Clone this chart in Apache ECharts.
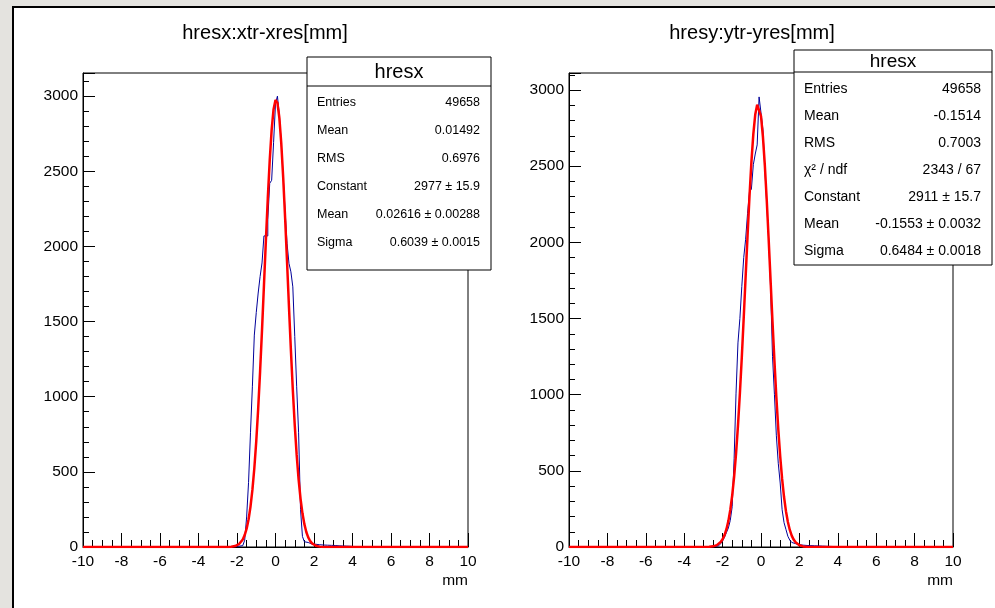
<!DOCTYPE html>
<html>
<head>
<meta charset="utf-8">
<script src="https://cdn.jsdelivr.net/npm/echarts@6/dist/echarts.min.js"></script>
<style>
  html, body { margin: 0; padding: 0; background: #e4e3df; overflow: hidden; }
  #pad { position: absolute; left: 12px; top: 6px; width: 1000px; height: 620px; background: #fff;
         border-left: 2px solid #000; border-top: 2px solid #000; }
  #main { position: absolute; left: 0; top: 0; width: 995px; height: 608px; }
</style>
</head>
<body>
<div id="pad"></div>
<div id="main"></div>
<script>
// histogram binning (200 bins over -10..10)
const binWidth = 0.1;
const xTicks = [-10, 10];

// hresx: xtr-xres, bin contents starting at left edge -2.5
const xresFirstEdge = -2.5;
const xresCounts = [
  1, 1, 2, 2, 3, 5, 7, 9, 10, 45,
  200, 430, 760, 1070, 1410, 1560, 1690, 1800, 1890, 2070,
  2070, 2180, 2420, 2440, 2690, 2950, 3000, 2874, 2685, 2463,
  2230, 2020, 1887, 1831, 1731, 1400, 1066, 760, 250, 70,
  35, 30, 22, 20, 18, 18, 16, 15, 14, 13,
  12, 12, 11, 11, 10, 10, 9, 8, 8, 7,
  7, 6, 6, 5, 4, 3, 3, 2, 2, 1, 1
];

// hresy: ytr-yres, bin contents starting at left edge -2.6
const yresFirstEdge = -2.6;
const yresCounts = [
  2, 3, 5, 8, 14, 22, 40, 65, 95, 125,
  175, 265, 580, 1010, 1340, 1500, 1710, 1900, 2020, 2190,
  2330, 2350, 2510, 2580, 2640, 2955, 2850, 2740, 2480, 2250,
  2020, 1700, 1250, 1000, 730, 550, 420, 245, 160, 115,
  70, 45, 30, 22, 18, 15, 13, 12, 11, 10,
  10, 9, 8, 8, 7, 7, 6, 6, 5, 5,
  5, 4, 4, 3, 3, 2, 1
];

// gaussian fit curves, sampled every 0.1
const fitStep = 0.1;
const xresFitStart = -2.5;
const xresFit = [
  0.5, 0.9, 1.8, 3.3, 6.1, 10.7, 18.4, 30.8, 50.2, 79.4,
  122, 183, 267, 380, 524, 703, 919, 1169, 1445, 1740,
  2037, 2321, 2573, 2776, 2913, 2974, 2955, 2856, 2686, 2458,
  2188, 1896, 1597, 1310, 1045, 811, 613, 450, 322, 224,
  152, 100, 64, 40, 24, 14, 8.2, 4.6, 2.5, 1.3, 0.7
];
const yresFitStart = -2.7;
const yresFit = [
  1.3, 2.4, 4.2, 7.3, 12.2, 20.2, 32.4, 50.9, 78, 117,
  170, 243, 339, 461, 613, 795, 1008, 1246, 1505, 1776,
  2046, 2301, 2527, 2711, 2839, 2904, 2900, 2829, 2694, 2505,
  2275, 2017, 1747, 1477, 1220, 983, 774, 595, 447, 328,
  235, 164, 112, 74.5, 48.6, 30.9, 19.2, 11.6, 6.9, 4.0,
  2.2, 1.2
];

// stats boxes
const statsX = [
  ['Entries', '49658'],
  ['Mean', '0.01492'],
  ['RMS', '0.6976'],
  ['Constant', '2977 \u00b1 15.9'],
  ['Mean', '0.02616 \u00b1 0.00288'],
  ['Sigma', '0.6039 \u00b1 0.0015']
];
const statsY = [
  ['Entries', '49658'],
  ['Mean', '-0.1514'],
  ['RMS', '0.7003'],
  ['\u03c7\u00b2 / ndf', '2343 / 67'],
  ['Constant', '2911 \u00b1 15.7'],
  ['Mean', '-0.1553 \u00b1 0.0032'],
  ['Sigma', '0.6484 \u00b1 0.0018']
];

const FONT = '"Liberation Sans", Arial, Helvetica, sans-serif';

function histPoints(firstEdge, counts) {
  const pts = [[xTicks[0], 0]];
  counts.forEach((c, i) => pts.push([+(firstEdge + i * binWidth).toFixed(3), c]));
  pts.push([+(firstEdge + counts.length * binWidth).toFixed(3), 0]);
  pts.push([xTicks[1], 0]);
  return pts;
}
function fitPoints(start, vals) {
  const pts = [[xTicks[0], 0]];
  vals.forEach((v, i) => pts.push([+(start + i * fitStep).toFixed(3), v]));
  pts.push([xTicks[1], 0]);
  return pts;
}

function xAxisCfg(idx) {
  return {
    type: 'value', gridIndex: idx, min: -10, max: 10, interval: 2,
    axisLine: { show: true, onZero: false, lineStyle: { color: '#000', width: 1 } },
    axisTick: { show: true, inside: true, length: 14, lineStyle: { color: '#000' } },
    minorTick: { show: true, splitNumber: 4, length: 7, lineStyle: { color: '#000' } },
    axisLabel: { color: '#000', fontSize: 15.5, fontFamily: FONT, margin: 7 },
    splitLine: { show: false }
  };
}
function yAxisCfg(idx, max) {
  return {
    type: 'value', gridIndex: idx, min: 0, max: max, interval: 500,
    axisLine: { show: true, onZero: false, lineStyle: { color: '#000', width: 1 } },
    axisTick: { show: true, inside: true, length: 12, lineStyle: { color: '#000' } },
    minorTick: { show: true, splitNumber: 5, length: 6, lineStyle: { color: '#000' } },
    axisLabel: { color: '#000', fontSize: 15.5, fontFamily: FONT, margin: 5, showMaxLabel: false,
                 formatter: v => (v % 500 === 0 ? String(v) : '') },
    splitLine: { show: false }
  };
}

function statsBox(x, y, w, headH, rowY, rows, fontSize, headSize) {
  const els = [
    { type: 'rect', shape: { x: x, y: y, width: w, height: rowY.h }, z: 100,
      style: { fill: '#fff', stroke: '#000', lineWidth: 1 } },
    { type: 'line', shape: { x1: x, y1: y + headH, x2: x + w, y2: y + headH }, z: 101,
      style: { stroke: '#000', lineWidth: 1 } },
    { type: 'text', x: x + w / 2, y: y + headH / 2 + 1, z: 101,
      style: { text: 'hresx', font: headSize + 'px ' + FONT, fill: '#000',
               textAlign: 'center', textVerticalAlign: 'middle' } }
  ];
  rows.forEach((r, i) => {
    const yy = rowY.first + i * rowY.step;
    els.push({ type: 'text', x: x + 10, y: yy, z: 101,
      style: { text: r[0], font: fontSize + 'px ' + FONT, fill: '#000', textAlign: 'left', textVerticalAlign: 'middle' } });
    els.push({ type: 'text', x: x + w - 11, y: yy, z: 101,
      style: { text: r[1], font: fontSize + 'px ' + FONT, fill: '#000', textAlign: 'right', textVerticalAlign: 'middle' } });
  });
  return els;
}

const chart = echarts.init(document.getElementById('main'), null, { renderer: 'canvas' });

const graphics = [
  { type: 'text', x: 265, y: 33, style: { text: 'hresx:xtr-xres[mm]', font: '20px ' + FONT, fill: '#000', textAlign: 'center', textVerticalAlign: 'middle' } },
  { type: 'text', x: 752, y: 33, style: { text: 'hresy:ytr-yres[mm]', font: '20px ' + FONT, fill: '#000', textAlign: 'center', textVerticalAlign: 'middle' } },
  { type: 'text', x: 468, y: 581, style: { text: 'mm', font: '15.5px ' + FONT, fill: '#000', textAlign: 'right', textVerticalAlign: 'middle' } },
  { type: 'text', x: 953, y: 581, style: { text: 'mm', font: '15.5px ' + FONT, fill: '#000', textAlign: 'right', textVerticalAlign: 'middle' } }
].concat(
  statsBox(307, 57, 184, 29, { first: 103, step: 28, h: 213 }, statsX, 12.5, 20),
  statsBox(794, 50, 198, 22, { first: 89, step: 27, h: 215 }, statsY, 14, 19)
);

chart.setOption({
  animation: false,
  backgroundColor: 'transparent',
  grid: [
    { left: 83, top: 73, width: 385, height: 474, show: true, borderColor: '#000', borderWidth: 1, backgroundColor: '#fff' },
    { left: 569, top: 73, width: 384, height: 474, show: true, borderColor: '#000', borderWidth: 1, backgroundColor: '#fff' }
  ],
  xAxis: [xAxisCfg(0), xAxisCfg(1)],
  yAxis: [yAxisCfg(0, 3154), yAxisCfg(1, 3112)],
  series: [
    { name: 'hresx', type: 'line', xAxisIndex: 0, yAxisIndex: 0, step: 'end', symbol: 'none',
      data: histPoints(xresFirstEdge, xresCounts), lineStyle: { color: '#000099', width: 1 } },
    { name: 'fitx', type: 'line', xAxisIndex: 0, yAxisIndex: 0, symbol: 'none',
      data: fitPoints(xresFitStart, xresFit), lineStyle: { color: '#ff0000', width: 2.5 } },
    { name: 'hresy', type: 'line', xAxisIndex: 1, yAxisIndex: 1, step: 'end', symbol: 'none',
      data: histPoints(yresFirstEdge, yresCounts), lineStyle: { color: '#000099', width: 1 } },
    { name: 'fity', type: 'line', xAxisIndex: 1, yAxisIndex: 1, symbol: 'none',
      data: fitPoints(yresFitStart, yresFit), lineStyle: { color: '#ff0000', width: 2.5 } }
  ],
  graphic: graphics
});
</script>
</body>
</html>
